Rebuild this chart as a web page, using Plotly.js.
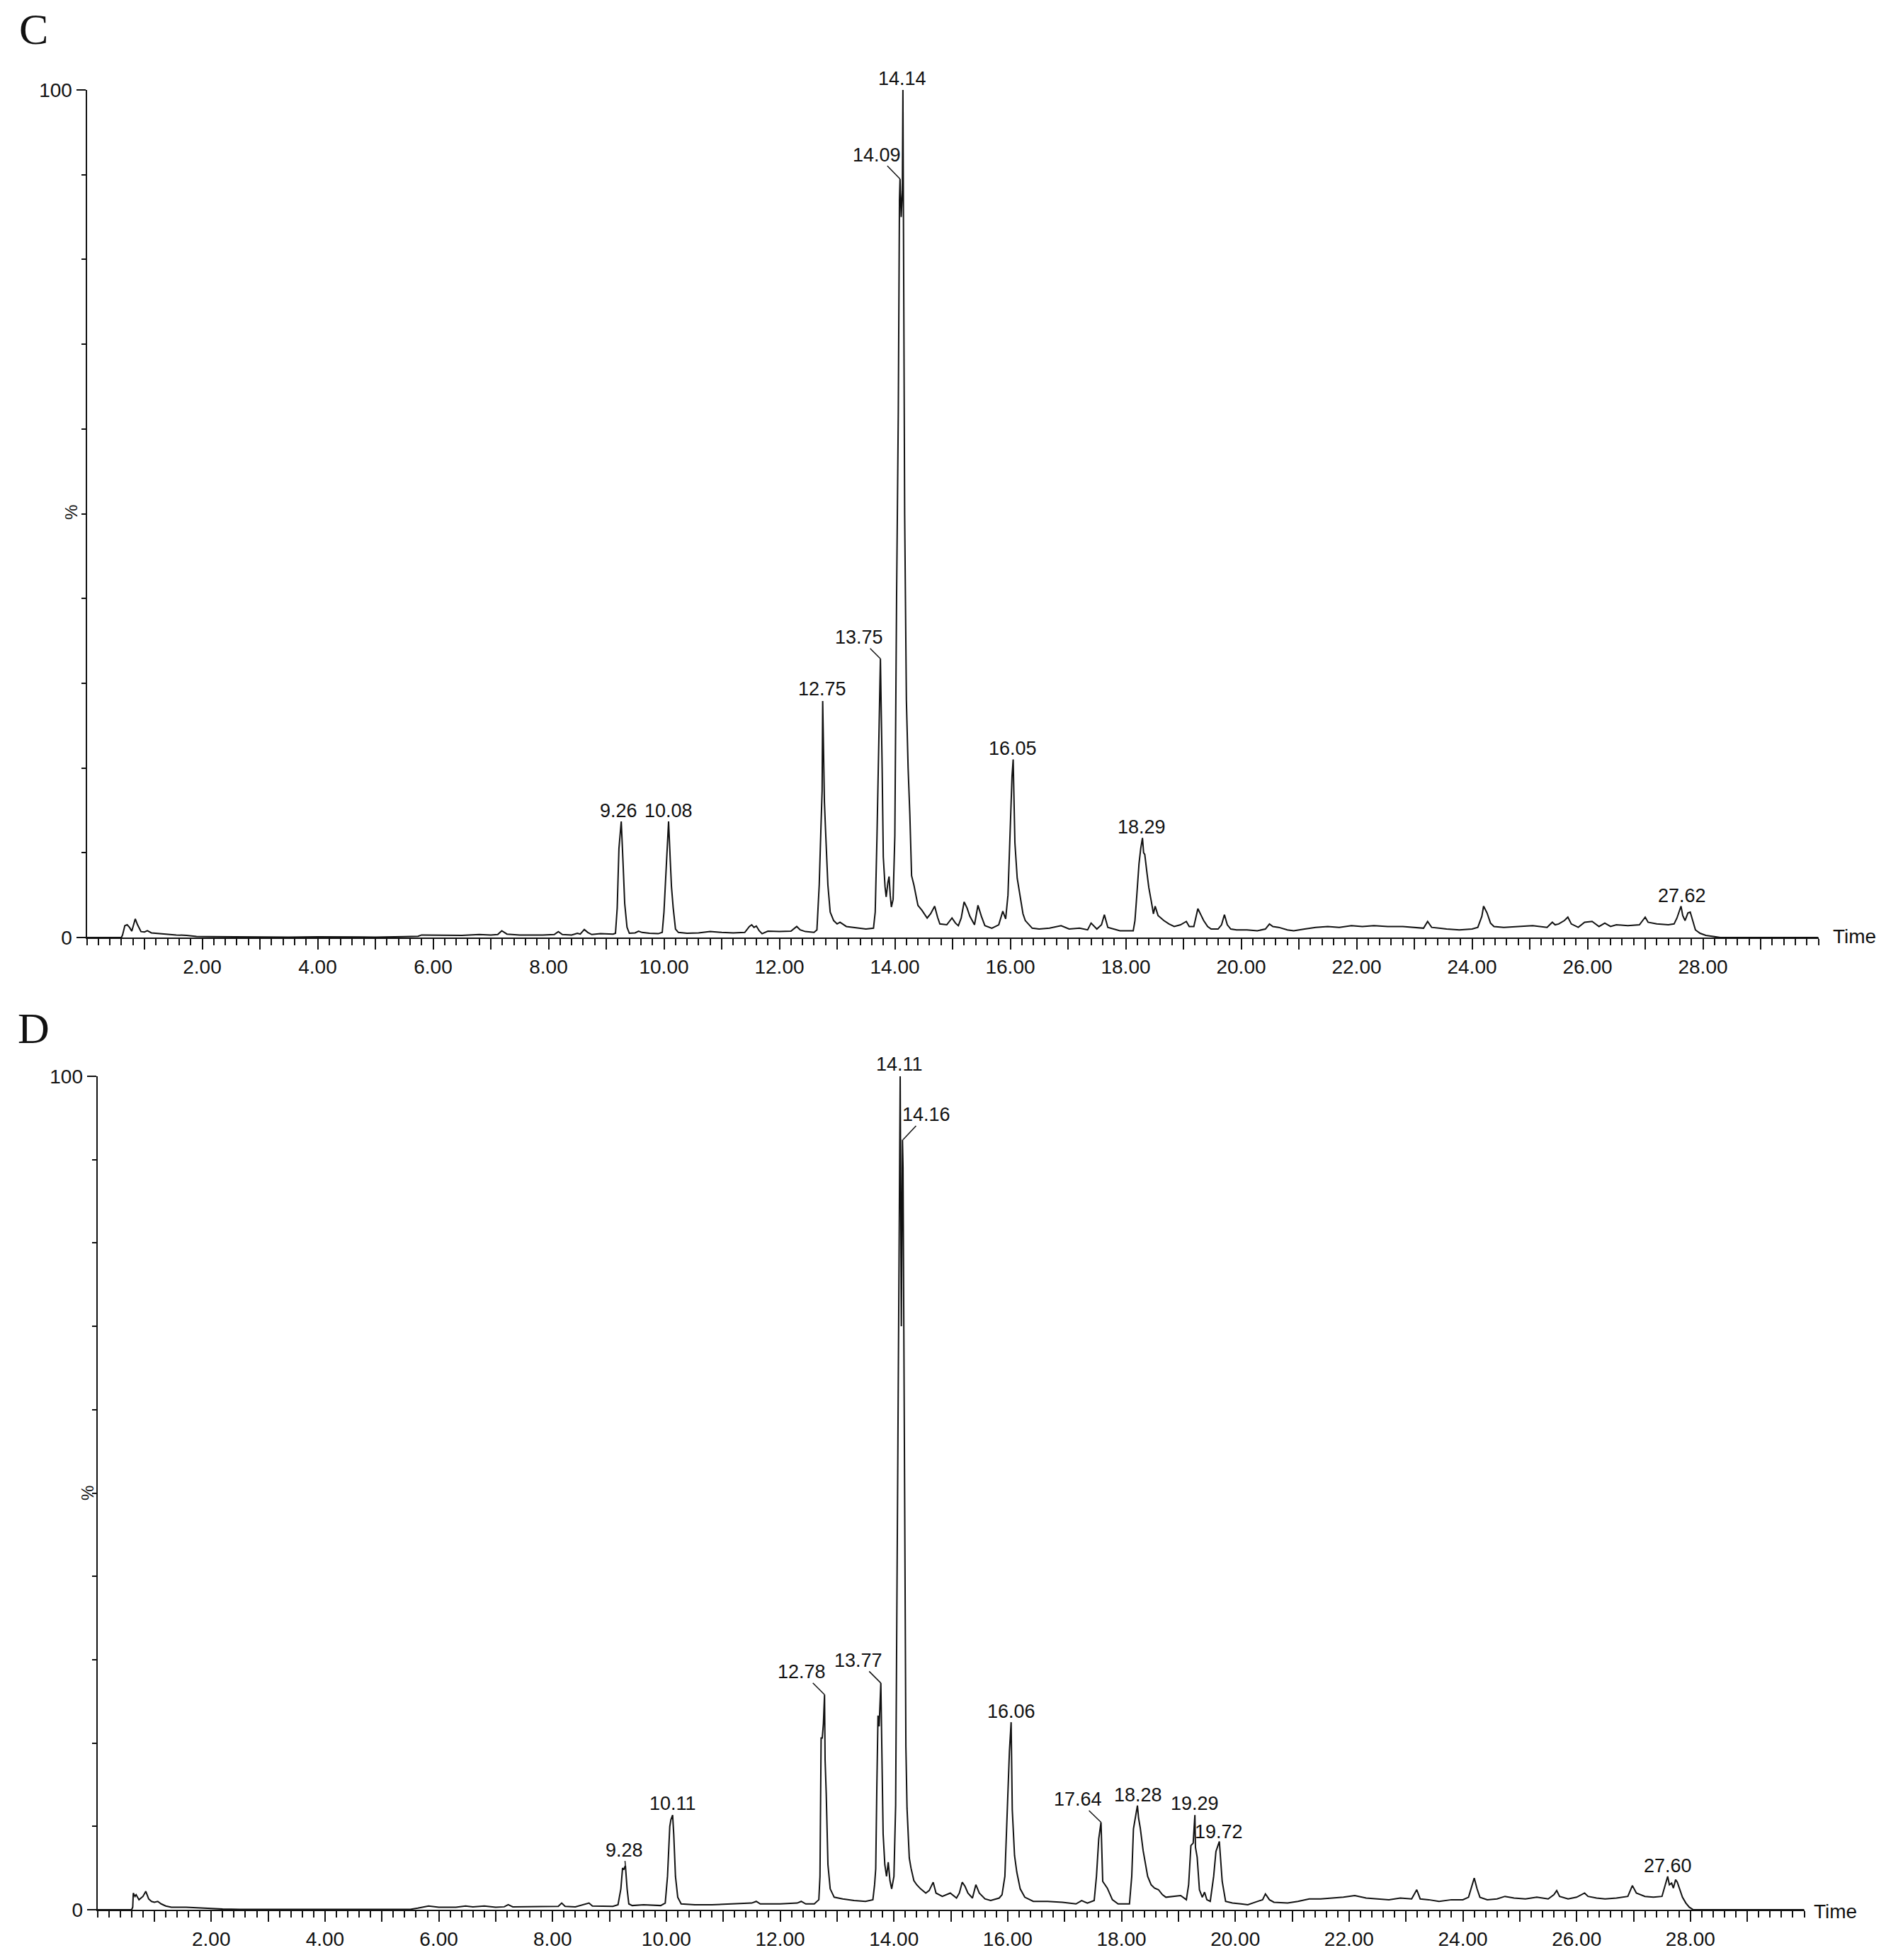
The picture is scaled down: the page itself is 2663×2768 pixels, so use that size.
<!DOCTYPE html>
<html>
<head>
<meta charset="utf-8">
<script src="https://cdn.plot.ly/plotly-3.0.1.min.js"></script>
<style>html,body{margin:0;padding:0;background:#fff;}#chart{width:2663px;height:2768px;}</style>
</head>
<body>
<div id="chart"></div>
<script>
// ---------------- DATA ----------------
// Panel C chromatogram (time in min, relative intensity %)
const timeC = [0,0.60,0.62,0.66,0.70,0.74,0.78,0.82,0.84,0.88,0.94,1.00,1.05,1.12,1.20,1.36,1.55,1.73,1.90,2.10,2.5,3.0,3.5,4.0,4.5,5.0,5.5,5.74,5.8,6.0,6.5,6.8,7.0,7.12,7.19,7.28,7.5,7.9,8.1,8.17,8.24,8.4,8.5,8.55,8.62,8.68,8.75,8.9,9.05,9.12,9.16,9.19,9.22,9.26,9.29,9.32,9.36,9.4,9.5,9.56,9.62,9.75,9.9,9.97,10.0,10.04,10.08,10.11,10.13,10.16,10.2,10.25,10.4,10.6,10.8,11.0,11.2,11.4,11.48,11.52,11.56,11.6,11.65,11.7,11.8,12.0,12.2,12.3,12.36,12.45,12.6,12.65,12.69,12.72,12.74,12.75,12.78,12.8,12.84,12.88,12.94,13.0,13.05,13.16,13.3,13.5,13.63,13.66,13.69,13.72,13.75,13.78,13.8,13.83,13.85,13.88,13.9,13.92,13.94,13.97,14.0,14.03,14.06,14.08,14.09,14.11,14.13,14.14,14.15,14.17,14.2,14.23,14.26,14.29,14.33,14.4,14.47,14.56,14.62,14.69,14.74,14.78,14.9,14.99,15.05,15.1,15.15,15.2,15.25,15.3,15.38,15.44,15.5,15.56,15.68,15.8,15.87,15.92,15.96,16.0,16.03,16.05,16.08,16.12,16.17,16.22,16.26,16.38,16.5,16.68,16.88,17.02,17.2,17.34,17.4,17.5,17.58,17.63,17.69,17.9,18.13,18.16,18.19,18.23,18.26,18.29,18.31,18.33,18.37,18.4,18.45,18.48,18.51,18.56,18.66,18.75,18.84,18.95,19.05,19.1,19.18,19.25,19.3,19.35,19.42,19.48,19.6,19.66,19.71,19.76,19.82,19.92,20.1,20.28,20.42,20.49,20.55,20.65,20.8,20.91,21.1,21.29,21.5,21.7,21.91,22.1,22.3,22.54,22.8,23.0,23.16,23.23,23.3,23.56,23.78,24.0,24.1,24.17,24.2,24.26,24.32,24.38,24.55,24.8,25.05,25.3,25.39,25.44,25.5,25.6,25.66,25.72,25.84,25.95,26.08,26.2,26.3,26.4,26.5,26.7,26.9,27.0,27.05,27.2,27.4,27.5,27.55,27.62,27.65,27.69,27.74,27.78,27.83,27.87,27.95,28.05,28.2,28.3,30];
const intensityC = [0,0,0.3,1.4,1.5,1.2,0.75,1.8,2.2,1.5,0.7,0.65,0.8,0.55,0.5,0.45,0.3,0.25,0.12,0.1,0.08,0.05,0.05,0.08,0.05,0.05,0.1,0.15,0.3,0.3,0.25,0.35,0.3,0.35,0.8,0.4,0.3,0.3,0.35,0.7,0.35,0.3,0.5,0.4,0.95,0.6,0.35,0.45,0.4,0.4,0.5,3.5,10.5,13.7,9.0,4.0,1.2,0.5,0.55,0.75,0.6,0.5,0.45,0.6,3.0,9.0,13.7,9.0,6.0,3.5,1.0,0.6,0.5,0.55,0.7,0.6,0.55,0.6,1.3,1.5,1.2,1.35,0.8,0.45,0.75,0.7,0.75,1.3,0.9,0.7,0.6,0.9,6.2,13,17.3,27.9,16,12.6,6.2,3.0,2.0,1.6,1.8,1.3,1.2,1.0,1.1,3.0,11.7,24,32.9,20,9.5,6.0,4.8,6.5,7.2,5.0,3.6,4.5,12,40,62,87,89.5,85,88,100,80,50,28,20,14.5,7.3,6.2,3.8,3.2,2.3,2.8,3.7,2.4,1.6,1.5,2.3,1.7,1.4,2.3,4.2,3.5,2.5,1.5,3.8,2.5,1.4,1.1,1.5,3.1,2.2,5,13,19,21,11.2,7,4.8,2.8,2.0,1.1,1.0,1.1,1.4,1.0,1.1,0.9,1.7,1.0,1.5,2.7,1.2,0.8,0.8,2.0,4.8,8.7,10.5,11.75,10,9.8,7.5,5.9,4.0,2.8,3.7,2.6,2.0,1.6,1.3,1.5,1.9,1.3,1.3,3.4,2.7,2.0,1.3,1.0,1.0,1.5,2.7,1.5,1.0,0.9,0.9,0.8,1.0,1.6,1.3,1.2,0.9,0.8,1.0,1.2,1.3,1.2,1.4,1.3,1.4,1.3,1.3,1.2,1.1,1.9,1.2,1.0,0.9,1.0,1.2,2.5,3.7,2.9,1.7,1.3,1.2,1.3,1.4,1.2,1.8,1.5,1.6,2.0,2.4,1.6,1.2,1.8,1.9,1.3,1.7,1.3,1.5,1.4,1.5,2.4,1.8,1.6,1.5,1.6,2.3,3.7,2.6,2.0,2.9,3.0,1.8,0.9,0.5,0.25,0.1,0,0];
const peakLabelsC = ['9.26','10.08','12.75','13.75','14.09','14.14','16.05','18.29','27.62'];

// Panel D chromatogram
const timeD = [0,0.60,0.62,0.63,0.66,0.68,0.73,0.80,0.85,0.90,0.95,1.00,1.06,1.12,1.20,1.30,1.56,1.80,2.2,2.5,3.0,3.5,4.0,4.5,5.0,5.5,5.63,5.7,5.82,6.0,6.3,6.47,6.6,6.8,7.0,7.15,7.22,7.3,7.6,7.9,8.1,8.16,8.22,8.4,8.55,8.61,8.64,8.7,8.9,9.06,9.15,9.2,9.23,9.25,9.28,9.31,9.34,9.4,9.6,9.9,9.98,10.02,10.06,10.08,10.11,10.13,10.16,10.2,10.26,10.5,10.8,11.2,11.5,11.58,11.65,12.0,12.3,12.37,12.45,12.6,12.68,12.7,12.71,12.72,12.74,12.76,12.78,12.79,12.81,12.84,12.88,12.95,13.1,13.3,13.5,13.63,13.66,13.68,13.7,13.72,13.74,13.77,13.79,13.81,13.84,13.87,13.9,13.93,13.96,14.0,14.03,14.06,14.09,14.11,14.13,14.15,14.16,14.18,14.21,14.23,14.27,14.3,14.35,14.4,14.47,14.56,14.62,14.69,14.74,14.85,14.99,15.1,15.15,15.2,15.25,15.3,15.38,15.44,15.5,15.6,15.7,15.85,15.9,15.95,15.99,16.03,16.06,16.08,16.12,16.16,16.22,16.3,16.45,16.7,16.96,17.2,17.3,17.4,17.52,17.56,17.6,17.64,17.67,17.75,17.84,17.94,18.14,18.18,18.21,18.28,18.3,18.33,18.38,18.46,18.52,18.58,18.65,18.72,18.78,18.9,19.04,19.14,19.18,19.22,19.26,19.29,19.3,19.33,19.37,19.42,19.46,19.5,19.56,19.62,19.66,19.72,19.74,19.77,19.83,19.95,20.1,20.22,20.35,20.48,20.53,20.6,20.68,20.92,21.1,21.3,21.5,21.7,21.9,22.1,22.3,22.5,22.7,22.9,23.1,23.19,23.25,23.4,23.58,23.8,24.0,24.1,24.16,24.2,24.25,24.3,24.43,24.6,24.74,24.9,25.1,25.3,25.5,25.6,25.65,25.7,25.85,26.0,26.14,26.2,26.35,26.5,26.7,26.9,26.98,27.05,27.2,27.35,27.5,27.6,27.63,27.67,27.7,27.74,27.77,27.86,27.92,27.98,28.05,30];
const intensityD = [0,0,0.3,2.0,1.6,1.8,1.2,1.6,2.2,1.3,1.0,0.9,1.0,0.7,0.45,0.3,0.3,0.2,0.08,0.05,0.05,0.05,0.05,0.05,0.05,0.05,0.2,0.3,0.45,0.3,0.3,0.45,0.35,0.45,0.3,0.35,0.6,0.35,0.35,0.4,0.4,0.8,0.4,0.35,0.6,0.75,0.8,0.45,0.4,0.4,0.6,2.5,5.0,4.8,5.3,2.5,0.7,0.5,0.6,0.5,0.8,4,10,10.8,11.36,9,4,1.5,0.7,0.6,0.6,0.7,0.8,1.0,0.7,0.7,0.8,1.0,0.7,0.7,1.2,4,11.1,20.6,20.6,22.3,25.8,18,13.9,5.4,2.5,1.5,1.3,1.1,1.0,1.2,3.0,4.9,15,23.3,22,27.2,18,9.1,5.4,4.0,5.7,3.5,2.5,4.0,12.5,45,80,100,70,92.4,89,55,19.6,12.2,6.2,5.0,3.5,3.0,2.5,2.0,2.3,3.3,2.0,1.6,2.0,1.4,2.0,3.3,2.8,2.0,1.4,3.0,2.0,1.3,1.1,1.4,1.8,4,12,19,22.5,12,6.5,4.5,2.5,1.5,1.0,1.0,0.9,0.7,1.1,0.8,1.1,4.0,8.5,10.5,3.4,2.6,1.2,0.7,0.7,4.0,9.7,12.5,11,9.8,7.1,4.0,3.0,2.6,2.4,1.8,1.5,1.6,1.7,1.2,3,7.7,8.0,11.36,7.5,6.3,2.4,1.5,2.1,1.2,1.0,4.0,7.0,8.2,6,3.4,1.0,0.8,0.7,0.6,0.9,1.2,1.9,1.2,0.9,0.8,1.0,1.3,1.3,1.4,1.5,1.7,1.4,1.3,1.2,1.4,1.3,2.4,1.3,1.2,1.0,1.2,1.2,1.5,2.8,3.8,2.5,1.5,1.2,1.3,1.6,1.4,1.3,1.5,1.3,1.8,2.3,1.6,1.3,1.5,2.0,1.6,1.4,1.3,1.4,1.6,2.9,2.0,1.6,1.5,1.6,4.0,3.0,3.2,2.6,3.6,3.3,1.5,0.8,0.3,0,0];
const peakLabelsD = ['9.28','10.11','12.78','13.77','14.11','14.16','16.06','17.64','18.28','19.29','19.72','27.60'];

// Axis tick labels
const majorTicks = [1,2,3,4,5,6,7,8,9,10,11,12,13,14,15,16,17,18,19,20,21,22,23,24,25,26,27,28,29];
const majorTickText = ['','2.00','','4.00','','6.00','','8.00','','10.00','','12.00','','14.00','','16.00','','18.00','','20.00','','22.00','','24.00','','26.00','','28.00',''];
const yTicks = [0,100];
const yTickText = ['0','100'];
const panelLetters = ['C','D'];
const xAxisTitle = 'Time';
const yAxisTitle = '%';

// ---------------- STYLE / LAYOUT ----------------
const W = 2663, H = 2768;
const fx = px => px / W;
const fy = px => 1 - px / H;
const FONT = '"Liberation Sans", Arial, sans-serif';
const INK = '#111';
const LABEL_SIZE = 27, TICK_SIZE = 28;

// label offsets (pixels) of text centre relative to the peak top: [dx, dy]
const offC = {'9.26':[-4,-15],'10.08':[0,-15],'12.75':[-1,-17],'13.75':[-30,-30],'14.09':[-33,-34],'14.14':[-1,-16],'16.05':[-1,-16],'18.29':[-1,-15],'27.62':[1,-15]};
const leaderC = {'13.75':true,'14.09':true};
const offD = {'9.28':[-2,-22],'10.11':[0,-16],'12.78':[-32,-32],'13.77':[-32,-32],'14.11':[-1,-17],'14.16':[33,-35],'16.06':[0,-15],'17.64':[-33,-32],'18.28':[1,-15],'19.29':[0,-16],'19.72':[-1,-13],'27.60':[0,-15]};
const leaderD = {'9.28':true,'12.78':true,'13.77':true,'14.16':true,'17.64':true};

function peakValue(t, I, label){
  const x = parseFloat(label);
  let best = 0;
  for (let i=0;i<t.length;i++){ if (Math.abs(t[i]-x) < 0.011 && I[i] > best) best = I[i]; }
  return best;
}

function makeAnnotations(t, I, labels, offs, leaders, xr, yr){
  return labels.map(lb => {
    const x = parseFloat(lb), y = peakValue(t, I, lb);
    const o = offs[lb];
    if (leaders[lb]) {
      return {xref:xr, yref:yr, x:x, y:y, text:lb, showarrow:true, arrowhead:0, arrowwidth:1.5, arrowcolor:INK,
              ax:o[0], ay:o[1], standoff:0, borderpad:0, font:{family:FONT, size:LABEL_SIZE, color:INK}};
    }
    return {xref:xr, yref:yr, x:x, y:y, text:lb, showarrow:false, xanchor:'center', yanchor:'middle',
            xshift:o[0], yshift:-o[1], borderpad:0, font:{family:FONT, size:LABEL_SIZE, color:INK}};
  });
}

function xAxis(domain, range, anchor){
  return {domain:domain, range:range, anchor:anchor, showline:true, linecolor:INK, linewidth:2, mirror:false,
    showgrid:false, zeroline:false, ticks:'outside', ticklen:15, tickwidth:2, tickcolor:INK,
    tickmode:'array', tickvals:majorTicks, ticktext:majorTickText, tickangle:0,
    tickfont:{family:FONT, size:TICK_SIZE, color:INK},
    minor:{tickmode:'linear', tick0:0, dtick:0.2, ticks:'outside', ticklen:9, tickwidth:2, tickcolor:INK, showgrid:false},
    fixedrange:true};
}
function yAxis(domain, anchor){
  return {domain:domain, range:[0,100], anchor:anchor, showline:true, linecolor:INK, linewidth:2,
    showgrid:false, zeroline:false, ticks:'outside', ticklen:13, tickwidth:2, tickcolor:INK,
    tickmode:'array', tickvals:yTicks, ticktext:yTickText, tickfont:{family:FONT, size:TICK_SIZE, color:INK},
    minor:{tickmode:'linear', tick0:0, dtick:10, ticks:'outside', ticklen:6, tickwidth:2, tickcolor:INK, showgrid:false},
    fixedrange:true};
}

const traces = [
  {x:timeC, y:intensityC, type:'scatter', mode:'lines', line:{color:INK, width:2}, xaxis:'x', yaxis:'y', hoverinfo:'skip', cliponaxis:true},
  {x:timeD, y:intensityD, type:'scatter', mode:'lines', line:{color:INK, width:2}, xaxis:'x2', yaxis:'y2', hoverinfo:'skip', cliponaxis:true}
];

const annotations = []
  .concat(makeAnnotations(timeC, intensityC, peakLabelsC, offC, leaderC, 'x', 'y'))
  .concat(makeAnnotations(timeD, intensityD, peakLabelsD, offD, leaderD, 'x2', 'y2'))
  .concat([
    {xref:'paper', yref:'paper', x:fx(47), y:fy(41), text:panelLetters[0], showarrow:false, xanchor:'center', yanchor:'middle',
     font:{family:'"Liberation Serif", "Times New Roman", serif', size:62, color:INK}},
    {xref:'paper', yref:'paper', x:fx(47), y:fy(1452), text:panelLetters[1], showarrow:false, xanchor:'center', yanchor:'middle',
     font:{family:'"Liberation Serif", "Times New Roman", serif', size:62, color:INK}},
    {xref:'paper', yref:'paper', x:fx(2586), y:fy(1323), text:xAxisTitle, showarrow:false, xanchor:'left', yanchor:'middle',
     font:{family:FONT, size:TICK_SIZE, color:INK}},
    {xref:'paper', yref:'paper', x:fx(2559), y:fy(2699), text:xAxisTitle, showarrow:false, xanchor:'left', yanchor:'middle',
     font:{family:FONT, size:TICK_SIZE, color:INK}},
    {xref:'paper', yref:'paper', x:fx(100), y:fy(724), text:yAxisTitle, showarrow:false, textangle:-90, xanchor:'center', yanchor:'middle',
     font:{family:FONT, size:24, color:INK}},
    {xref:'paper', yref:'paper', x:fx(123), y:fy(2109), text:yAxisTitle, showarrow:false, textangle:-90, xanchor:'center', yanchor:'middle',
     font:{family:FONT, size:24, color:INK}}
  ]);

const layout = {
  width:W, height:H, margin:{l:0, r:0, t:0, b:0}, paper_bgcolor:'#ffffff', plot_bgcolor:'#ffffff', showlegend:false,
  xaxis: xAxis([fx(122.5), fx(2567.5)], [0,30], 'y'),
  yaxis: yAxis([fy(1324), fy(127)], 'x'),
  xaxis2: xAxis([fx(137.6), fx(2547.5)], [0,30], 'y2'),
  yaxis2: yAxis([fy(2697), fy(1520)], 'x2'),
  annotations: annotations
};

Plotly.newPlot('chart', traces, layout, {staticPlot:true, displayModeBar:false});
</script>
</body>
</html>
